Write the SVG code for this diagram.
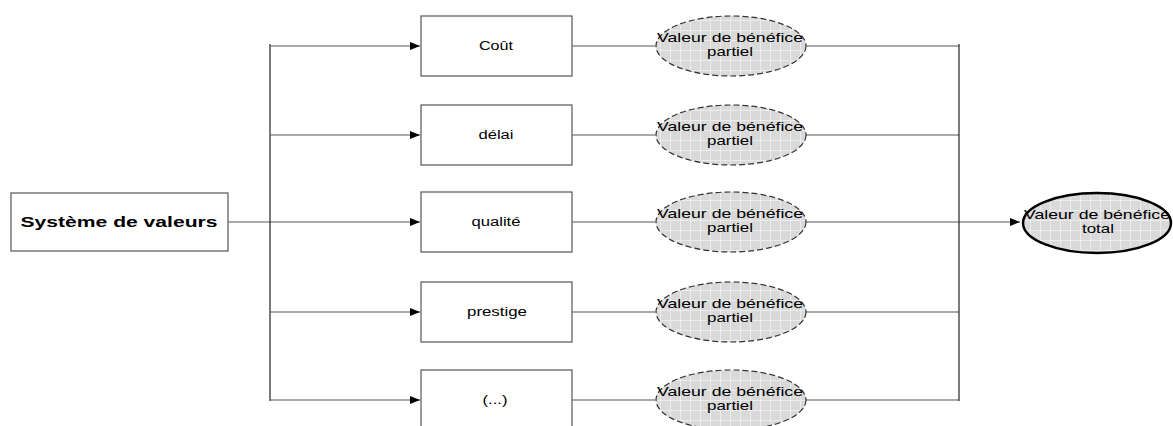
<svg xmlns="http://www.w3.org/2000/svg" width="1173" height="426" viewBox="0 0 1173 426">
<style>
.box{fill:#fff;stroke:#555;stroke-width:1.2}
.ln{stroke:#555;stroke-width:1.2;fill:none}
.vl{stroke:#222;stroke-width:1.2;fill:none}
.ell{fill:url(#grid);stroke:#333;stroke-width:1.2;stroke-dasharray:6 3}
.tot{fill:url(#grid);stroke:#000;stroke-width:2.5}
text{font-family:"Liberation Sans",Arial,sans-serif;fill:#000;text-anchor:middle}
.t{font-size:12.5px}
.e{font-size:13px}
.s{font-size:15px;font-weight:bold}
</style>
<defs>
<pattern id="grid" width="10" height="10" patternUnits="userSpaceOnUse">
<rect width="10" height="10" fill="#d9d9d9"/>
<path d="M0 0.5H10M0.5 0V10" stroke="#ececec" stroke-width="1"/>
</pattern>
<marker id="arr" markerWidth="10" markerHeight="8" refX="10" refY="4" orient="auto" markerUnits="userSpaceOnUse">
<path d="M0 0L10 4L0 8Z" fill="#000"/>
</marker>
</defs>
<g id="connectors">
<line class="ln" x1="228" y1="222" x2="348" y2="222"/>
<line class="vl" x1="270" y1="44" x2="270" y2="401"/>
<line class="ln" x1="270" y1="46" x2="420" y2="46" marker-end="url(#arr)"/>
<line class="ln" x1="270" y1="135" x2="420" y2="135" marker-end="url(#arr)"/>
<line class="ln" x1="348" y1="222" x2="420" y2="222" marker-end="url(#arr)"/>
<line class="ln" x1="270" y1="312" x2="420" y2="312" marker-end="url(#arr)"/>
<line class="ln" x1="270" y1="400" x2="420" y2="400" marker-end="url(#arr)"/>
<line class="ln" x1="572" y1="46" x2="655" y2="46"/>
<line class="ln" x1="572" y1="135" x2="655" y2="135"/>
<line class="ln" x1="572" y1="222" x2="655" y2="222"/>
<line class="ln" x1="572" y1="312" x2="655" y2="312"/>
<line class="ln" x1="572" y1="400" x2="655" y2="400"/>
<line class="ln" x1="806" y1="46" x2="959" y2="46"/>
<line class="ln" x1="806" y1="135" x2="959" y2="135"/>
<line class="ln" x1="806" y1="222" x2="1020" y2="222" marker-end="url(#arr)"/>
<line class="ln" x1="806" y1="312" x2="959" y2="312"/>
<line class="ln" x1="806" y1="400" x2="959" y2="400"/>
<line class="vl" x1="959" y1="44" x2="959" y2="401"/>
</g>
<g id="systeme"><rect class="box" x="11" y="193" width="217" height="58"/><text class="s" x="119" y="227" textLength="197" lengthAdjust="spacingAndGlyphs">Système de valeurs</text></g>
<g id="cout"><rect class="box" x="421" y="16" width="151" height="60"/><text class="t" x="496" y="50" textLength="34" lengthAdjust="spacingAndGlyphs">Coût</text></g>
<g id="delai"><rect class="box" x="421" y="105" width="151" height="60"/><text class="t" x="496" y="139" textLength="35" lengthAdjust="spacingAndGlyphs">délai</text></g>
<g id="qualite"><rect class="box" x="421" y="192" width="151" height="60"/><text class="t" x="496" y="226" textLength="49" lengthAdjust="spacingAndGlyphs">qualité</text></g>
<g id="prestige"><rect class="box" x="421" y="282" width="151" height="60"/><text class="t" x="497" y="316" textLength="60" lengthAdjust="spacingAndGlyphs">prestige</text></g>
<g id="etc"><rect class="box" x="421" y="370" width="151" height="60"/><text class="t" x="495" y="404" textLength="25" lengthAdjust="spacingAndGlyphs">(...)</text></g>
<g id="vp1"><ellipse class="ell" cx="731" cy="46" rx="75" ry="30"/><text class="e" x="730" y="42" textLength="146" lengthAdjust="spacingAndGlyphs">Valeur de bénéfice</text><text class="e" x="730" y="56" textLength="46" lengthAdjust="spacingAndGlyphs">partiel</text></g>
<g id="vp2"><ellipse class="ell" cx="731" cy="135" rx="75" ry="30"/><text class="e" x="730" y="131" textLength="146" lengthAdjust="spacingAndGlyphs">Valeur de bénéfice</text><text class="e" x="730" y="145" textLength="46" lengthAdjust="spacingAndGlyphs">partiel</text></g>
<g id="vp3"><ellipse class="ell" cx="731" cy="222" rx="75" ry="30"/><text class="e" x="730" y="218" textLength="146" lengthAdjust="spacingAndGlyphs">Valeur de bénéfice</text><text class="e" x="730" y="232" textLength="46" lengthAdjust="spacingAndGlyphs">partiel</text></g>
<g id="vp4"><ellipse class="ell" cx="731" cy="312" rx="75" ry="30"/><text class="e" x="730" y="308" textLength="146" lengthAdjust="spacingAndGlyphs">Valeur de bénéfice</text><text class="e" x="730" y="322" textLength="46" lengthAdjust="spacingAndGlyphs">partiel</text></g>
<g id="vp5"><ellipse class="ell" cx="731" cy="400" rx="75" ry="30"/><text class="e" x="730" y="396" textLength="146" lengthAdjust="spacingAndGlyphs">Valeur de bénéfice</text><text class="e" x="730" y="410" textLength="46" lengthAdjust="spacingAndGlyphs">partiel</text></g>
<g id="total"><ellipse class="tot" cx="1097" cy="223" rx="74" ry="30"/><text class="e" x="1097" y="219" textLength="146" lengthAdjust="spacingAndGlyphs">Valeur de bénéfice</text><text class="e" x="1098" y="233" textLength="32" lengthAdjust="spacingAndGlyphs">total</text></g>
</svg>
